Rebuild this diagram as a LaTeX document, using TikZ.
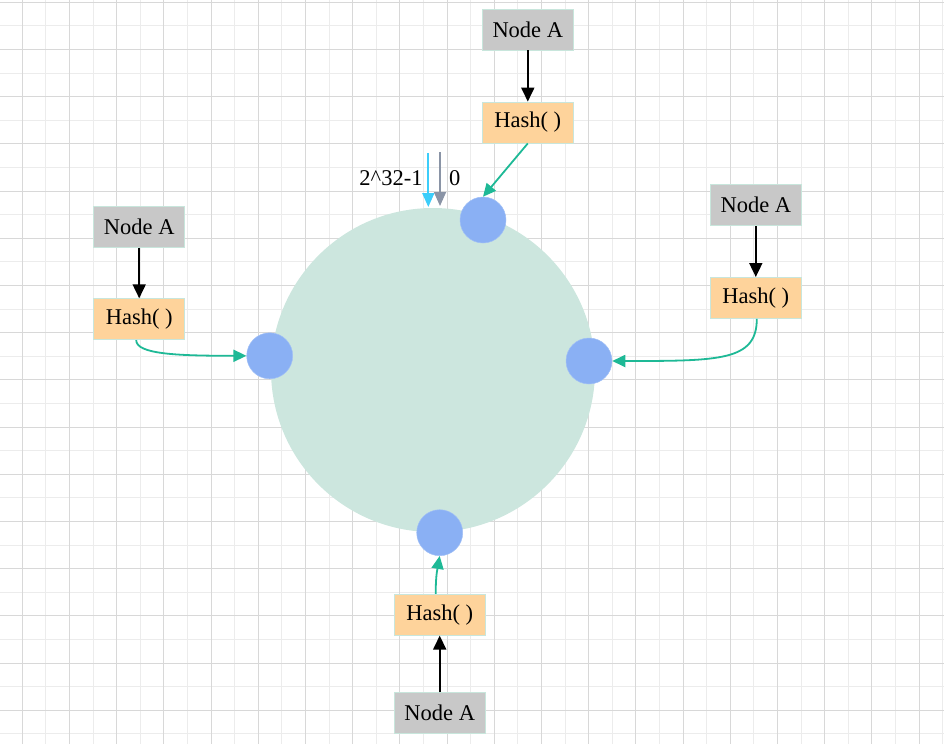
\documentclass[tikz,border=0pt]{standalone}
\usepackage{fontspec}
\setmainfont{Liberation Serif}
\usetikzlibrary{arrows.meta}

\definecolor{gridminor}{RGB}{236,236,236}
\definecolor{gridmajor}{RGB}{216,216,216}
\definecolor{keygray}{RGB}{200,200,200}
\definecolor{hashpeach}{RGB}{254,211,155}
\definecolor{boxedge}{RGB}{200,230,220}
\definecolor{ringmint}{RGB}{204,230,222}
\definecolor{slotblue}{RGB}{138,176,244}
\definecolor{linkgreen}{RGB}{30,185,150}
\definecolor{startcyan}{RGB}{60,205,250}
\definecolor{endgray}{RGB}{138,148,166}

\begin{document}
\begin{tikzpicture}[x=1pt,y=-1pt,
    keybox/.style={draw=boxedge, line width=0.8pt, fill=keygray, minimum width=91pt,
      minimum height=41pt, inner sep=0pt, font=\fontsize{22.5}{26}\selectfont},
    hashbox/.style={keybox, fill=hashpeach},
    slot/.style={circle, fill=slotblue, draw=slotblue!80!white, line width=0.5pt,
      minimum size=46pt, inner sep=0pt},
    feed/.style={-{Triangle[length=14pt,width=13pt]}, line width=1.8pt, black},
    place/.style={-{Triangle[length=13pt,width=12pt]}, line width=1.8pt, linkgreen}]
  \useasboundingbox (0,0) rectangle (944,744);
  % Background grid
  \foreach \k in {0,...,19} {
    \draw[gridminor, line width=1.1pt] (45.9+47.2*\k,0) -- (45.9+47.2*\k,744);
  }
  \foreach \k in {0,...,15} {
    \draw[gridminor, line width=1.1pt] (0,25.9+47.2*\k) -- (944,25.9+47.2*\k);
  }
  \foreach \k in {0,...,19} {
    \draw[gridmajor, line width=1.1pt] (22.3+47.2*\k,0) -- (22.3+47.2*\k,744);
  }
  \foreach \k in {0,...,15} {
    \draw[gridmajor, line width=1.1pt] (0,2.3+47.2*\k) -- (944,2.3+47.2*\k);
  }
  % Hash ring
  \node[circle, fill=ringmint, minimum size=324pt, inner sep=0pt] (ring) at (433,370) {};
  % Slots on the ring
  \node[slot] (ptop) at (483,220) {};
  \node[slot] (pleft) at (269.7,355.8) {};
  \node[slot] (pright) at (589,361) {};
  \node[slot] (pbottom) at (439.7,532.7) {};
  % Start of the ring
  \coordinate (cyanTop) at (428.3,153);
  \coordinate (cyanEnd) at (428.3,207);
  \coordinate (grayTop) at (440,152);
  \coordinate (grayEnd) at (440,206);
  \draw[-{Triangle[length=14pt,width=12pt]}, line width=1.8pt, startcyan] (cyanTop) -- (cyanEnd);
  \draw[-{Triangle[length=14pt,width=12pt]}, line width=1.8pt, endgray] (grayTop) -- (grayEnd);
  \node[font=\fontsize{22.5}{26}\selectfont, inner sep=0pt] (maxlabel) at (391,178) {2\textasciicircum32-1};
  \node[font=\fontsize{22.5}{26}\selectfont, inner sep=0pt] (zerolabel) at (454.7,178) {0};
  % Top
  \node[keybox] (topA) at (527.8,29.5) {Node A};
  \node[hashbox] (topH) at (527.8,122.5) {Hash( )};
  \draw[feed] (topA) -- (topH);
  \draw[place] (topH.south) -- (ptop.north);
  % Left
  \node[keybox] (leftA) at (139.2,226.7) {Node A};
  \node[hashbox] (leftH) at (139.2,319.2) {Hash( )};
  \draw[feed] (leftA) -- (leftH);
  \draw[place] ([xshift=-3pt]leftH.south) .. controls +(0,14) and +(-70,0) .. (pleft.west);
  % Right
  \node[keybox] (rightA) at (755.8,205.3) {Node A};
  \node[hashbox] (rightH) at (755.8,297.9) {Hash( )};
  \draw[feed] (rightA) -- (rightH);
  \draw[place] ([xshift=1pt]rightH.south) .. controls +(0,42) and +(108,0) .. (pright.east);
  % Bottom
  \node[hashbox] (bottomH) at (439.7,614.7) {Hash( )};
  \node[keybox] (bottomA) at (439.7,713.2) {Node A};
  \draw[feed] (bottomA) -- (bottomH);
  \draw[place] ([xshift=-4pt]bottomH.north) .. controls +(0,-20) and +(-2,12) .. (pbottom.south);
\end{tikzpicture}
\end{document}
